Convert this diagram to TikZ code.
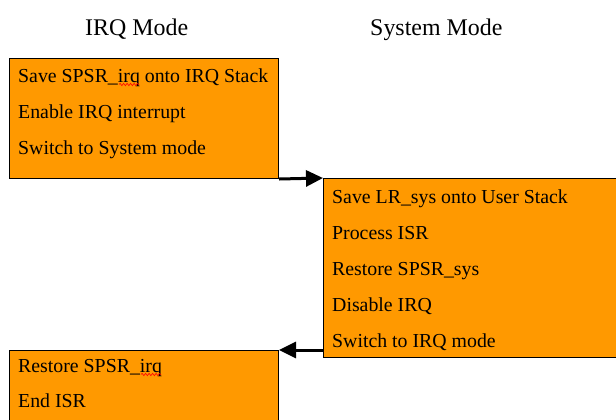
\documentclass[tikz,border=0pt]{standalone}
\usepackage{fontspec}
\setmainfont{Liberation Serif}
\usetikzlibrary{arrows.meta,decorations.pathmorphing}
\definecolor{boxorange}{HTML}{FF9900}
\begin{document}
\begin{tikzpicture}[x=1bp,y=-1bp,
  stagebox/.style={draw=black,line width=1bp,fill=boxorange,rectangle,anchor=north west,inner sep=0pt},
  stepline/.style={anchor=base west,inner sep=0pt,font=\fontsize{19.9}{22}\selectfont},
  modetitle/.style={anchor=base west,inner sep=0pt,font=\fontsize{24}{28}\selectfont},
  flowarrow/.style={line width=3bp,-{Triangle[length=17bp,width=16bp]}},
  squig/.style={red,line width=0.6bp,decorate,decoration={snake,amplitude=1.2bp,segment length=3.5bp}}]
\useasboundingbox (0,0) rectangle (616,419);
\clip (0,0) rectangle (616,419);
\fill[white] (0,0) rectangle (616,419);
% titles
\node[modetitle] (t1) at (85,35) {IRQ Mode};
\node[modetitle] (t2) at (370,35) {System Mode};
% boxes
\node[stagebox,minimum width=269bp,minimum height=120bp] (b1) at (9,58) {};
\node[stagebox,minimum width=300bp,minimum height=179bp] (b2) at (323,178) {};
\node[stagebox,minimum width=269bp,minimum height=90bp] (b3) at (9,350) {};
% box 1 text
\node[stepline] (l11) at (18,82) {Save SPSR\_irq onto IRQ Stack};
\node[stepline] (l12) at (18,118) {Enable IRQ interrupt};
\node[stepline] (l13) at (18,154) {Switch to System mode};
% box 2 text
\node[stepline] (l21) at (332,203) {Save LR\_sys onto User Stack};
\node[stepline] (l22) at (332,239) {Process ISR};
\node[stepline] (l23) at (332,275) {Restore SPSR\_sys};
\node[stepline] (l24) at (332,311) {Disable IRQ};
\node[stepline] (l25) at (332,347) {Switch to IRQ mode};
% box 3 text
\node[stepline] (l31) at (18,372) {Restore SPSR\_irq};
\node[stepline] (l32) at (18,407) {End ISR};
% spelling squiggles
\draw[squig] (119,84.5) -- (139,84.5);
\draw[squig] (141,374.5) -- (161,374.5);
% arrows
\draw[flowarrow] (b1.south east) -- (b2.north west);
\coordinate (a2s) at (323,350);
\draw[flowarrow] (a2s) -- (b3.north east);
\end{tikzpicture}
\end{document}
